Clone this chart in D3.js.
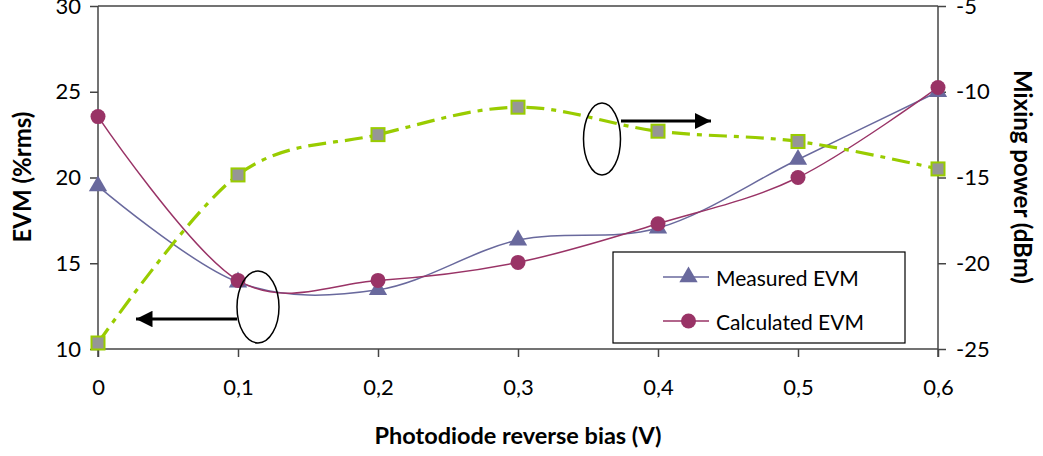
<!DOCTYPE html>
<html>
<head>
<meta charset="utf-8">
<script src="https://cdn.jsdelivr.net/npm/d3@7"></script>
<style>
  body { margin: 0; background: #fff; }
  svg text { font-family: Lato, "Open Sans", sans-serif; fill: #000; }
</style>
</head>
<body>
<div id="chart"></div>
<script>
// bias voltages (V)
var bias = [0, 0.1, 0.2, 0.3, 0.4, 0.5, 0.6];
// EVM in %rms (left axis)
var measuredEVM = [19.5, 13.9, 13.45, 16.35, 17.05, 21.05, 25.0];
var calculatedEVM = [23.55, 14.0, 14.0, 15.05, 17.3, 20.0, 25.25];
// mixing power in dBm (right axis)
var mixingPower = [-24.65, -14.85, -12.5, -10.9, -12.3, -12.9, -14.5];

var xTicks = [0, 0.1, 0.2, 0.3, 0.4, 0.5, 0.6];
var leftTicks = [10, 15, 20, 25, 30];
var rightTicks = [-25, -20, -15, -10, -5];

var W = 1043, H = 456;
var mLeft = 98, mRight = 938, mTop = 6, mBottom = 349;

var svg = d3.select("#chart").append("svg")
  .attr("width", W).attr("height", H);

var x = d3.scaleLinear().domain([0, 0.6]).range([mLeft, mRight]);
var yL = d3.scaleLinear().domain([10, 30]).range([mBottom, mTop]);
var yR = d3.scaleLinear().domain([-25, -5]).range([mBottom, mTop]);

// decimal comma on x, plain hyphen for negatives on the right
var fmt = function (d) { return d === 0 ? "0" : String(d).replace(".", ","); };
var plain = function (d) { return String(d); };
var axisColor = "#444";

// top border of the plot area
svg.append("line")
  .attr("x1", mLeft).attr("x2", mRight).attr("y1", mTop).attr("y2", mTop)
  .attr("stroke", axisColor).attr("stroke-width", 1.5);

// axes
var gx = svg.append("g").attr("transform", "translate(0," + mBottom + ")")
  .call(d3.axisBottom(x).tickValues(xTicks).tickSize(8).tickPadding(22).tickFormat(fmt));
var gl = svg.append("g").attr("transform", "translate(" + mLeft + ",0)")
  .call(d3.axisLeft(yL).tickValues(leftTicks).tickSize(8).tickPadding(9).tickFormat(plain));
var gr = svg.append("g").attr("transform", "translate(" + mRight + ",0)")
  .call(d3.axisRight(yR).tickValues(rightTicks).tickSize(8).tickPadding(10).tickFormat(plain));

[gx, gl, gr].forEach(function (g) {
  g.select(".domain").remove();
  g.attr("font-family", null).attr("font-size", null);
  g.selectAll(".tick line").attr("stroke", axisColor).attr("stroke-width", 1.5);
  g.selectAll(".tick text").style("font-size", "22px").attr("fill", "#000");
});
// axis lines (run a bit past the bottom like the original)
svg.append("line").attr("x1", mLeft).attr("x2", mRight).attr("y1", mBottom).attr("y2", mBottom)
  .attr("stroke", axisColor).attr("stroke-width", 1.5);
svg.append("line").attr("x1", mLeft).attr("x2", mLeft).attr("y1", mTop).attr("y2", mBottom + 8)
  .attr("stroke", axisColor).attr("stroke-width", 1.5);
svg.append("line").attr("x1", mRight).attr("x2", mRight).attr("y1", mTop).attr("y2", mBottom + 8)
  .attr("stroke", axisColor).attr("stroke-width", 1.5);

// axis titles
svg.append("text")
  .attr("transform", "translate(21,177) rotate(-90)")
  .attr("text-anchor", "middle").attr("dominant-baseline", "central")
  .style("font-size", "24px").style("font-weight", "bold")
  .text("EVM (%rms)");
svg.append("text")
  .attr("transform", "translate(1023,177) rotate(90)")
  .attr("text-anchor", "middle").attr("dominant-baseline", "central")
  .style("font-size", "24px").style("font-weight", "bold")
  .text("Mixing power (dBm)");
svg.append("text")
  .attr("x", 518).attr("y", 435)
  .attr("text-anchor", "middle").attr("dominant-baseline", "central")
  .style("font-size", "23.5px").style("font-weight", "bold")
  .text("Photodiode reverse bias (V)");

// series
var curve = d3.curveCardinal.tension(0);
var measuredColor = "#69699d", calcColor = "#993366", green = "#99cc00";

function pts(vals, y) { return bias.map(function (b, i) { return [x(b), y(vals[i])]; }); }

var line = d3.line().curve(curve);

svg.append("path").attr("d", line(pts(measuredEVM, yL)))
  .attr("fill", "none").attr("stroke", measuredColor).attr("stroke-width", 1.5);
svg.append("path").attr("d", line(pts(calculatedEVM, yL)))
  .attr("fill", "none").attr("stroke", calcColor).attr("stroke-width", 1.5);
svg.append("path").attr("d", line(pts(mixingPower, yR)))
  .attr("fill", "none").attr("stroke", green).attr("stroke-width", 3.2)
  .attr("stroke-dasharray", "18,7,5,7");

var tri = d3.symbol().type(d3.symbolTriangle).size(145);
svg.selectAll(".meas").data(pts(measuredEVM, yL)).enter().append("path")
  .attr("d", tri).attr("transform", function (d) { return "translate(" + d[0] + "," + d[1] + ")"; })
  .attr("fill", measuredColor);
svg.selectAll(".calc").data(pts(calculatedEVM, yL)).enter().append("circle")
  .attr("cx", function (d) { return d[0]; }).attr("cy", function (d) { return d[1]; })
  .attr("r", 7.5).attr("fill", calcColor);
svg.selectAll(".mix").data(pts(mixingPower, yR)).enter().append("rect")
  .attr("x", function (d) { return d[0] - 6.5; }).attr("y", function (d) { return d[1] - 6.5; })
  .attr("width", 13).attr("height", 13)
  .attr("fill", "#969696").attr("stroke", green).attr("stroke-width", 2);

// ellipses with arrows pointing to the axis each curve belongs to
var defs = svg.append("defs");
defs.append("marker").attr("id", "head")
  .attr("viewBox", "0 0 10 10").attr("refX", 10).attr("refY", 5)
  .attr("markerWidth", 5.5).attr("markerHeight", 5.5).attr("markerUnits", "strokeWidth")
  .attr("orient", "auto")
  .append("path").attr("d", "M0,0L10,5L0,10Z").attr("fill", "#000");

svg.append("ellipse").attr("cx", 258).attr("cy", 307).attr("rx", 21).attr("ry", 36)
  .attr("fill", "none").attr("stroke", "#000").attr("stroke-width", 1.5);
svg.append("line").attr("x1", 237).attr("y1", 319).attr("x2", 136).attr("y2", 319)
  .attr("stroke", "#000").attr("stroke-width", 3).attr("marker-end", "url(#head)");

svg.append("ellipse").attr("cx", 602).attr("cy", 139).attr("rx", 18.5).attr("ry", 36)
  .attr("fill", "none").attr("stroke", "#000").attr("stroke-width", 1.5);
svg.append("line").attr("x1", 621).attr("y1", 121).attr("x2", 711).attr("y2", 121)
  .attr("stroke", "#000").attr("stroke-width", 3).attr("marker-end", "url(#head)");

// legend
var lg = svg.append("g");
lg.append("rect").attr("x", 613).attr("y", 252).attr("width", 292).attr("height", 91)
  .attr("fill", "#fff").attr("stroke", "#000").attr("stroke-width", 1.2);
var legendItems = [
  { name: "Measured EVM", color: measuredColor, shape: "tri", y: 277 },
  { name: "Calculated EVM", color: calcColor, shape: "circle", y: 321 }
];
legendItems.forEach(function (it) {
  lg.append("line").attr("x1", 663).attr("x2", 709).attr("y1", it.y).attr("y2", it.y)
    .attr("stroke", it.color).attr("stroke-width", 1.5);
  if (it.shape === "tri") {
    lg.append("path").attr("d", tri).attr("transform", "translate(688.5," + it.y + ")")
      .attr("fill", it.color);
  } else {
    lg.append("circle").attr("cx", 688.5).attr("cy", it.y).attr("r", 7.5).attr("fill", it.color);
  }
  lg.append("text").attr("x", 716).attr("y", it.y).attr("dominant-baseline", "central")
    .style("font-size", "21px").text(it.name);
});
</script>
</body>
</html>
